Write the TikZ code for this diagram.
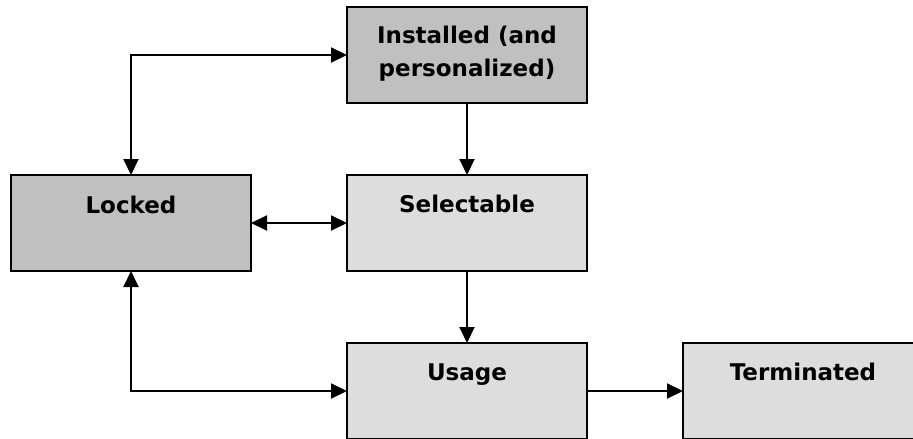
\documentclass[tikz,border=0pt]{standalone}
\usepackage{fontspec}
\setmainfont{DejaVu Sans}
\usetikzlibrary{arrows.meta}
\definecolor{darkfill}{HTML}{C0C0C0}
\definecolor{lightfill}{HTML}{DDDDDD}
\tikzset{
  statebox/.style={draw=black, line width=2pt, minimum width=240pt, minimum height=96pt, inner sep=0pt, outer sep=0pt},
  darkbox/.style={statebox, fill=darkfill},
  lightbox/.style={statebox, fill=lightfill},
  boxlabel/.style={anchor=base, inner sep=0pt, align=center, font=\fontsize{23}{33}\selectfont\bfseries},
  conn/.style={line width=2pt, -{Triangle[length=16pt,width=15pt]}},
  biconn/.style={line width=2pt, {Triangle[length=16pt,width=15pt]}-{Triangle[length=16pt,width=15pt]}}
}
\begin{document}
\begin{tikzpicture}[x=1pt, y=-1pt]
\useasboundingbox (0,0) rectangle (913,439);
\clip (0,0) rectangle (913,439);
\node[darkbox] (inst) at (467,55) {};
\node[darkbox] (lock) at (131,223) {};
\node[lightbox] (sel) at (467,223) {};
\node[lightbox] (usage) at (467,391) {};
\node[lightbox] (term) at (803,391) {};
\node[boxlabel] (instt) at (467,76) {Installed (and\\personalized)};
\node[boxlabel] (lockt) at (131,213) {Locked};
\node[boxlabel] (selt) at (467,212) {Selectable};
\node[boxlabel] (usaget) at (467,380) {Usage};
\node[boxlabel] (termt) at (803,380) {Terminated};
\draw[conn] (inst.south) -- (sel.north);
\draw[conn] (sel.south) -- (usage.north);
\draw[conn] (usage.east) -- (term.west);
\draw[biconn] (lock.east) -- (sel.west);
\draw[biconn] (lock.north) |- (inst.west);
\draw[biconn] (lock.south) |- (usage.west);
\end{tikzpicture}
\end{document}
